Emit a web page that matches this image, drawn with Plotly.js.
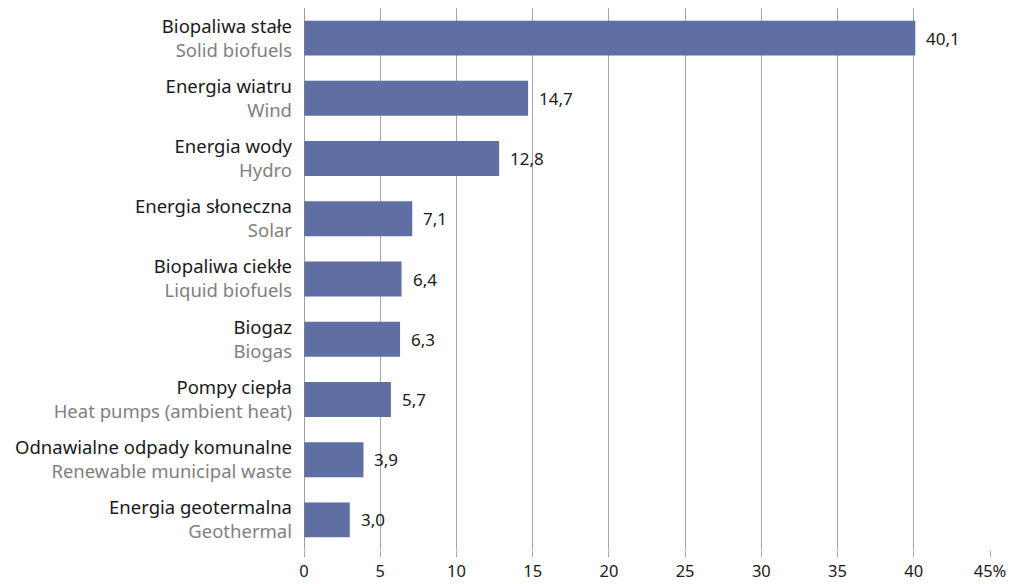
<!DOCTYPE html>
<html><head><meta charset="utf-8">
<script src="https://cdn.plot.ly/plotly-3.0.1.min.js"></script>
<style>html,body{margin:0;padding:0;background:#fff}</style>
</head><body>
<div id="chart" style="width:1022px;height:584px"></div>
<script>
const labelsPL = ["Biopaliwa stałe","Energia wiatru","Energia wody","Energia słoneczna","Biopaliwa ciekłe","Biogaz","Pompy ciepła","Odnawialne odpady komunalne","Energia geotermalna"];
const labelsEN = ["Solid biofuels","Wind","Hydro","Solar","Liquid biofuels","Biogas","Heat pumps (ambient heat)","Renewable municipal waste","Geothermal"];
const values = [40.1,14.7,12.8,7.1,6.4,6.3,5.7,3.9,3.0];
const xTickVals = [0,5,10,15,20,25,30,35,40,45];
const xTickText = ["0","5","10","15","20","25","30","35","40","45%"];

const cats = labelsPL.map((p,i)=>p+"<br><span style='color:#7f7f7f'>"+labelsEN[i]+"</span>");
const font = "Noto Sans, Open Sans, sans-serif";

const trace = {
  type:'bar', orientation:'h',
  x: values, y: cats,
  marker:{color:'#5f6fa3'},
  width:0.58,
  hoverinfo:'none'
};
const annotations = values.map((v,i)=>({
  x:v, y:cats[i], xref:'x', yref:'y',
  text: v.toFixed(1).replace('.',','),
  showarrow:false, xanchor:'left', xshift:9,
  font:{family:font,size:17,color:'#1a1a1a'}
}));
const layout = {
  width:1022, height:584,
  margin:{l:304,r:32,t:8,b:34},
  paper_bgcolor:'#fff', plot_bgcolor:'#fff',
  showlegend:false,
  font:{family:font,size:17,color:'#1a1a1a'},
  bargap:0.42,
  xaxis:{range:[0,45], tickvals:xTickVals, ticktext:xTickText,
    showgrid:true, gridcolor:'#a6a6a6', gridwidth:1,
    ticks:'outside', ticklen:6, tickcolor:'#a6a6a6',
    zeroline:false, showline:false, fixedrange:true,
    tickfont:{family:font,size:16.5,color:'#1a1a1a'}},
  yaxis:{autorange:'reversed', showgrid:false, zeroline:false,
    showline:false, ticks:'', ticklabelstandoff:11,
    tickfont:{family:font,size:18.5,color:'#1a1a1a'}},
  shapes:[{type:'line',xref:'x',yref:'paper',x0:0,x1:0,y0:0,y1:1,line:{color:'#7f7f7f',width:1.5}}],
  annotations:annotations
};
Plotly.newPlot('chart',[trace],layout,{displayModeBar:false,staticPlot:true});
</script>
</body></html>
